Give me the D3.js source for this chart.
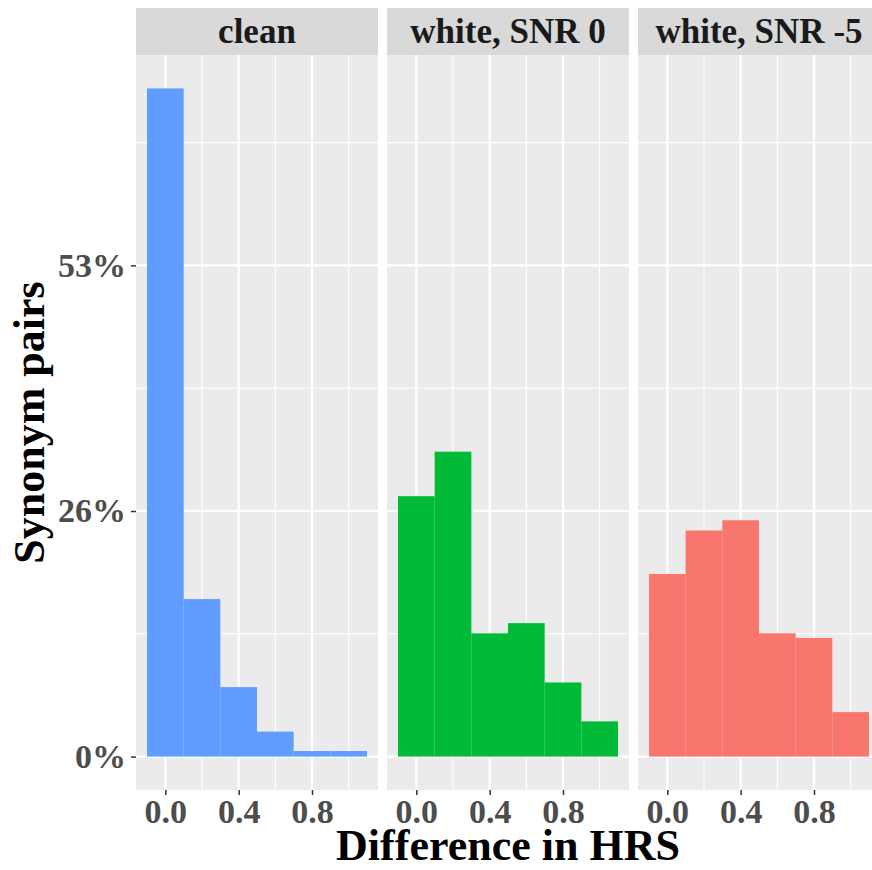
<!DOCTYPE html>
<html>
<head>
<meta charset="utf-8">
<script src="https://cdn.jsdelivr.net/npm/d3@7"></script>
<style>
  body { margin: 0; background: #fff; }
  svg { display: block; }
  text { font-family: "Liberation Serif", "Times New Roman", serif; font-weight: bold; }
</style>
</head>
<body>
<svg id="chart" width="872" height="870"></svg>
<script>
// facets, bins and proportions
const facets = ["clean", "white, SNR 0", "white, SNR -5"];
const colors = ["#619CFF", "#00BA38", "#F8766D"];
const binCenters = [0.0, 0.2, 0.4, 0.6, 0.8, 1.0];
const binWidth = 0.2;
const cleanValues = [0.721, 0.170, 0.075, 0.027, 0.006, 0.006];
const snr0Values = [0.281, 0.329, 0.133, 0.144, 0.080, 0.038];
const snrM5Values = [0.197, 0.244, 0.255, 0.133, 0.128, 0.048];
const facetValues = [cleanValues, snr0Values, snrM5Values];

const xTicks = [0.0, 0.4, 0.8];
const xTickLabels = ["0.0", "0.4", "0.8"];
const xMinor = [-0.2, 0.2, 0.6, 1.0];
const yTicks = [0, 0.265, 0.53];
const yTickLabels = ["0%", "26%", "53%"];
const yMinor = [0.1325, 0.3975, 0.6625];

const svg = d3.select("#chart");

const panelLeft = 136;
const panelWidth = 242;
const panelGap = 9;
const stripTop = 8;
const panelTop = 55;
const panelBottom = 790;

const yMax = d3.max(facetValues.flat());
const x = d3.scaleLinear().domain([-0.16, 1.16]).range([0, panelWidth]);
const y = d3.scaleLinear().domain([-0.05 * yMax, 1.05 * yMax]).range([panelBottom, panelTop]);

function styleAxis(sel) {
  sel.select(".domain").remove();
  sel.selectAll("line").attr("stroke", "#333").attr("stroke-width", 1.5);
  sel.selectAll("text")
    .attr("font-size", 34).attr("fill", "#4D4D4D")
    .attr("font-family", "Liberation Serif, serif");
}

facets.forEach((name, i) => {
  const g = svg.append("g")
    .attr("transform", `translate(${panelLeft + i * (panelWidth + panelGap)}, 0)`);

  // strip
  g.append("rect")
    .attr("x", 0).attr("y", stripTop)
    .attr("width", panelWidth).attr("height", panelTop - stripTop)
    .attr("fill", "#D9D9D9");
  g.append("text")
    .attr("x", panelWidth / 2).attr("y", 43)
    .attr("text-anchor", "middle")
    .attr("font-size", 35)
    .attr("fill", "#1A1A1A")
    .text(name);

  // panel background
  g.append("rect")
    .attr("x", 0).attr("y", panelTop)
    .attr("width", panelWidth).attr("height", panelBottom - panelTop)
    .attr("fill", "#EBEBEB");

  // grid
  g.selectAll(".ymin").data(yMinor).enter().append("line")
    .attr("x1", 0).attr("x2", panelWidth)
    .attr("y1", d => y(d)).attr("y2", d => y(d))
    .attr("stroke", "#fff").attr("stroke-width", 1.1);
  g.selectAll(".xmin").data(xMinor.filter(d => x(d) > 0 && x(d) < panelWidth)).enter().append("line")
    .attr("y1", panelTop).attr("y2", panelBottom)
    .attr("x1", d => x(d)).attr("x2", d => x(d))
    .attr("stroke", "#fff").attr("stroke-width", 1.1);
  g.selectAll(".ymaj").data(yTicks).enter().append("line")
    .attr("x1", 0).attr("x2", panelWidth)
    .attr("y1", d => y(d)).attr("y2", d => y(d))
    .attr("stroke", "#fff").attr("stroke-width", 2.2);
  g.selectAll(".xmaj").data(xTicks).enter().append("line")
    .attr("y1", panelTop).attr("y2", panelBottom)
    .attr("x1", d => x(d)).attr("x2", d => x(d))
    .attr("stroke", "#fff").attr("stroke-width", 2.2);

  // bars
  g.selectAll(".bar").data(facetValues[i]).enter().append("rect")
    .attr("x", (d, j) => x(binCenters[j] - binWidth / 2))
    .attr("width", (d, j) => x(binCenters[j] + binWidth / 2) - x(binCenters[j] - binWidth / 2))
    .attr("y", d => y(d))
    .attr("height", d => y(0) - y(d))
    .attr("fill", colors[i]);

  // x axis
  const xAxis = d3.axisBottom(x)
    .tickValues(xTicks)
    .tickFormat((d, j) => xTickLabels[j])
    .tickSize(5)
    .tickPadding(4);
  g.append("g")
    .attr("transform", `translate(0, ${panelBottom})`)
    .call(xAxis)
    .call(styleAxis);

  if (i === 0) {
    const yAxis = d3.axisLeft(y)
      .tickValues(yTicks)
      .tickFormat((d, j) => yTickLabels[j])
      .tickSize(5)
      .tickPadding(5);
    g.append("g").call(yAxis).call(styleAxis);
  }
});

// axis titles
const plotCenter = panelLeft + (3 * panelWidth + 2 * panelGap) / 2;
svg.append("text")
  .attr("x", plotCenter).attr("y", 860)
  .attr("text-anchor", "middle")
  .attr("font-size", 44)
  .attr("fill", "#000")
  .text("Difference in HRS");

svg.append("text")
  .attr("transform", `translate(44, ${(panelTop + panelBottom) / 2}) rotate(-90)`)
  .attr("text-anchor", "middle")
  .attr("font-size", 44)
  .attr("fill", "#000")
  .text("Synonym pairs");
</script>
</body>
</html>
